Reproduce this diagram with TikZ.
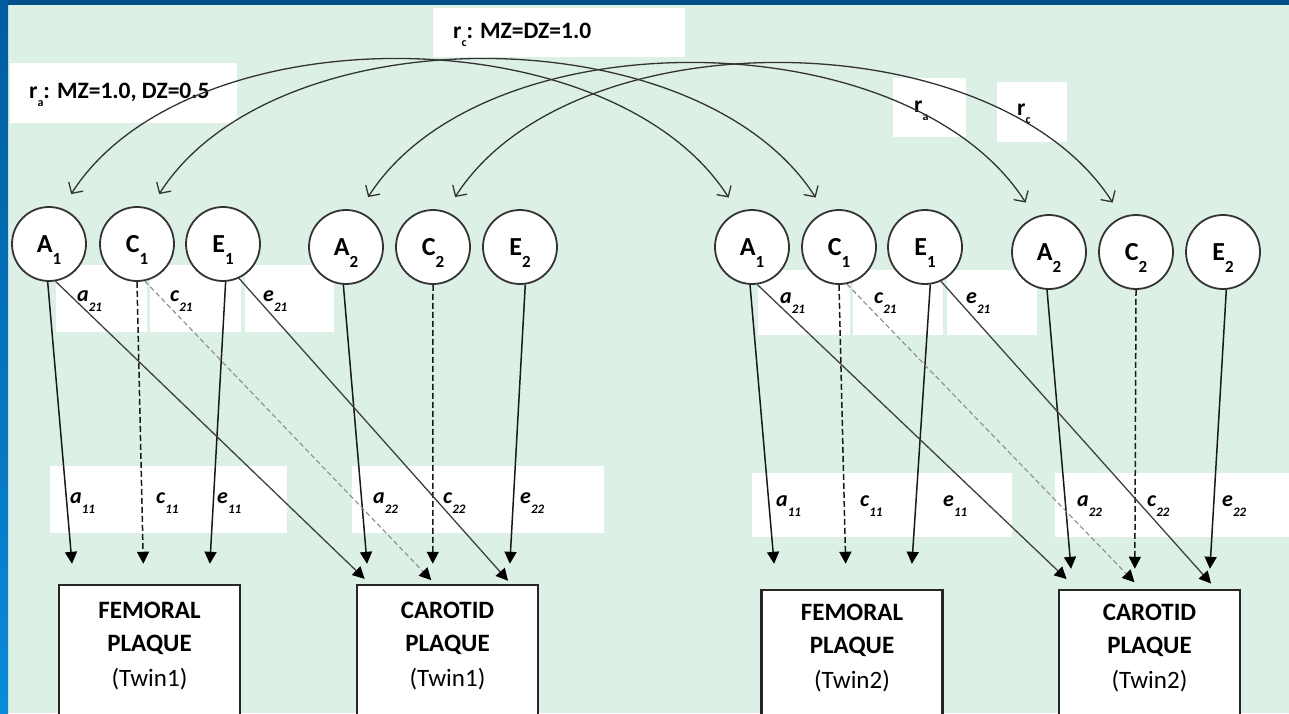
\documentclass[tikz,border=0pt]{standalone}
\usepackage{fontspec}
\setmainfont{Carlito}
\usetikzlibrary{arrows.meta,calc}
\definecolor{bgc}{HTML}{DCF0E6}
\definecolor{frameblue}{HTML}{00508A}
\definecolor{stripT}{HTML}{005C9E}
\definecolor{stripB}{HTML}{0A8ADA}
\newcommand{\pathlab}[2]{{\bfseries\itshape #1}\raisebox{-10pt}[0pt][0pt]{\fontsize{13}{13}\selectfont\bfseries\itshape #2}}
\newcommand{\circlab}[2]{#1\raisebox{-12pt}[0pt][0pt]{\fontsize{17}{17}\selectfont #2}}
\newcommand{\rsub}[1]{\raisebox{-8pt}[0pt][0pt]{\fontsize{12}{12}\selectfont #1}}
\begin{document}
\begin{tikzpicture}[x=1pt,y=-1pt,
  lat/.style={circle,draw=black!80,line width=1.8pt,fill=white,minimum size=74pt,inner sep=0pt,font=\fontsize{26}{26}\selectfont\bfseries},
  plaque/.style={rectangle,draw=black!85,line width=2.5pt,fill=white,minimum width=181pt,minimum height=140pt,inner sep=0pt},
  ptxt/.style={align=center,inner sep=0pt,font=\fontsize{25}{33}\selectfont,anchor=north},
  lab/.style={anchor=base west,inner sep=0pt,font=\fontsize{22}{22}\selectfont},
  rtxt/.style={anchor=base west,inner sep=0pt,font=\fontsize{23.5}{23.5}\selectfont\bfseries},
  tipf/.style={-{Triangle[length=12pt,width=12pt,color=black]}},
  pa/.style={line width=1.5pt,draw=black!90,tipf},
  pc/.style={pa,dash pattern=on 6pt off 3pt},
  pd/.style={line width=1.3pt,draw=black!75,tipf},
  pdc/.style={line width=1.1pt,draw=black!45,dash pattern=on 5pt off 3pt,tipf},
  corr/.style={line width=1.3pt,draw=black!80,{Straight Barb[length=8pt,width=17pt]}-{Straight Barb[length=8pt,width=17pt]},shorten <=17pt,shorten >=17pt}
]
\useasboundingbox (0,0) rectangle (1289,713);
\clip (0,0) rectangle (1289,713);
% background and frame
\fill[bgc] (0,0) rectangle (1289,713);
\fill[frameblue] (0,0) rectangle (1289,5);
\shade[top color=stripT,bottom color=stripB] (0,0) rectangle (8,713);

% white label backgrounds
\fill[white] (433,8) rectangle (685,57);
\fill[white] (10,63) rectangle (237,123);
\fill[white] (893,78) rectangle (966,137);
\fill[white] (997,82) rectangle (1067,142);
\fill[white] (56,265) rectangle (147,332);
\fill[white] (150,265) rectangle (241,332);
\fill[white] (245,265) rectangle (334,332);
\fill[white] (758,270) rectangle (850,335);
\fill[white] (853,270) rectangle (943,335);
\fill[white] (947,270) rectangle (1037,335);
\fill[white] (50,466) rectangle (287,533);
\fill[white] (352,466) rectangle (604,533);
\fill[white] (752,473) rectangle (1012,537);
\fill[white] (1055,473) rectangle (1289,537);

% top texts
\node[rtxt] (rc) at (453,38) {r\rsub{c}: MZ=DZ=1.0};
\node[rtxt] (ra) at (29,98) {r\rsub{a}: MZ=1.0, DZ=0.5};
\node[rtxt] (ra2) at (914,112) {r\rsub{a}};
\node[rtxt] (rc2) at (1017,115) {r\rsub{c}};

% path labels
\node[lab] (la21) at (77,301) {\pathlab{a}{21}};
\node[lab] (lc21) at (170,301) {\pathlab{c}{21}};
\node[lab] (le21) at (263,301) {\pathlab{e}{21}};
\node[lab] (lb21) at (780,303) {\pathlab{a}{21}};
\node[lab] (ld21) at (874,303) {\pathlab{c}{21}};
\node[lab] (lf21) at (966,303) {\pathlab{e}{21}};
\node[lab] (la11) at (70,503) {\pathlab{a}{11}};
\node[lab] (lc11) at (156,503) {\pathlab{c}{11}};
\node[lab] (le11) at (217,503) {\pathlab{e}{11}};
\node[lab] (la22) at (373,503) {\pathlab{a}{22}};
\node[lab] (lc22) at (443,503) {\pathlab{c}{22}};
\node[lab] (le22) at (520,503) {\pathlab{e}{22}};
\node[lab] (lb11) at (776,506) {\pathlab{a}{11}};
\node[lab] (ld11) at (860,506) {\pathlab{c}{11}};
\node[lab] (lf11) at (943,506) {\pathlab{e}{11}};
\node[lab] (lb22) at (1077,506) {\pathlab{a}{22}};
\node[lab] (ld22) at (1147,506) {\pathlab{c}{22}};
\node[lab] (lf22) at (1222,506) {\pathlab{e}{22}};

% latent circles
\node[lat] (A11) at (49,244) {\circlab{A}{1}};
\node[lat] (C11) at (137,244) {\circlab{C}{1}};
\node[lat] (E11) at (223,244) {\circlab{E}{1}};
\node[lat] (A21) at (346,247) {\circlab{A}{2}};
\node[lat] (C21) at (433,247) {\circlab{C}{2}};
\node[lat] (E21) at (520,247) {\circlab{E}{2}};
\node[lat] (A12) at (752,247) {\circlab{A}{1}};
\node[lat] (C12) at (839,247) {\circlab{C}{1}};
\node[lat] (E12) at (925,247) {\circlab{E}{1}};
\node[lat] (A22) at (1049,252) {\circlab{A}{2}};
\node[lat] (C22) at (1136,252) {\circlab{C}{2}};
\node[lat] (E22) at (1223,252) {\circlab{E}{2}};

% plaque boxes
\node[plaque] (F1) at (149.5,655) {};
\node[plaque] (K1) at (447.5,655) {};
\node[plaque] (F2) at (852,660) {};
\node[plaque] (K2) at (1149.5,660) {};
\node[ptxt] (F1t) at (149.5,602) {\bfseries FEMORAL\\\bfseries PLAQUE\\[2pt](Twin1)};
\node[ptxt] (K1t) at (447.5,602) {\bfseries CAROTID\\\bfseries PLAQUE\\[2pt](Twin1)};
\node[ptxt] (F2t) at (852,604) {\bfseries FEMORAL\\\bfseries PLAQUE\\[2pt](Twin2)};
\node[ptxt] (K2t) at (1149.5,604) {\bfseries CAROTID\\\bfseries PLAQUE\\[2pt](Twin2)};

% correlation arcs
\draw[corr] (A11.70) .. controls +(126,-197) and +(-126,-197) .. (A12.112);
\draw[corr] (C11.70) .. controls +(126,-197) and +(-126,-197) .. (C12.112);
\draw[corr] (A21.70) .. controls +(126,-197) and +(-126,-197) .. (A22.112);
\draw[corr] (C21.70) .. controls +(126,-197) and +(-126,-197) .. (C22.112);

% twin 1 paths
\draw[pa,shorten >=20pt] (A11.268) -- ($(F1.north west)+(16,0)$);
\draw[pc,shorten >=20pt] (C11.south) -- ($(F1.north west)+(86,0)$);
\draw[pa,shorten >=20pt] (E11.274) -- ($(F1.north west)+(151,0)$);
\draw[pa,shorten >=20pt] (A21.266) -- ($(K1.north west)+(13,0)$);
\draw[pc,shorten >=20pt] (C21.south) -- ($(K1.north west)+(77,0)$);
\draw[pa,shorten >=20pt] (E21.278) -- ($(K1.north west)+(153,0)$);
\draw[pd,shorten >=7pt] (A11.280) -- ($(K1.north west)+(14,0)$);
\draw[pdc,shorten >=5pt] (C11.282) -- ($(K1.north west)+(79,0)$);
\draw[pd,shorten >=4pt] (E11.295) -- ($(K1.north west)+(155,0)$);

% twin 2 paths
\draw[pa,shorten >=25pt] (A12.267) -- ($(F2.north west)+(16,0)$);
\draw[pc,shorten >=25pt] (C12.south) -- ($(F2.north west)+(86,0)$);
\draw[pa,shorten >=25pt] (E12.278) -- ($(F2.north west)+(150,0)$);
\draw[pa,shorten >=20pt] (A22.267) -- ($(K2.north west)+(15,0)$);
\draw[pc,shorten >=20pt] (C22.south) -- ($(K2.north west)+(77,0)$);
\draw[pa,shorten >=20pt] (E22.275) -- ($(K2.north west)+(151,0)$);
\draw[pd,shorten >=14pt] (A12.278) -- ($(K2.north west)+(19,0)$);
\draw[pdc,shorten >=9pt] (C12.282) -- ($(K2.north west)+(83,0)$);
\draw[pd,shorten >=7pt] (E12.295) -- ($(K2.north west)+(158,0)$);
\end{tikzpicture}
\end{document}
